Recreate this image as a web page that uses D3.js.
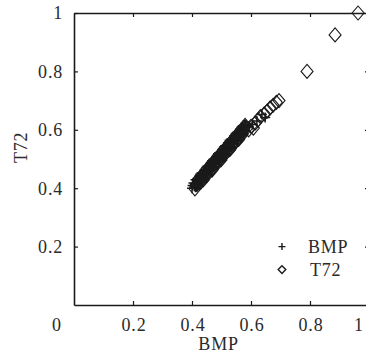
<!DOCTYPE html>
<html>
<head>
<meta charset="utf-8">
<script src="https://cdn.jsdelivr.net/npm/d3@7"></script>
<style>
  body { margin: 0; background: #fff; }
  svg { display: block; }
  text { font-family: "Liberation Serif", serif; fill: #2a2a2a; }
</style>
</head>
<body>
<div id="chart"></div>
<script>
// data
const seriesNames = ["BMP", "T72"];
const xTicks = [0.2, 0.4, 0.6, 0.8, 1];
const yTicks = [0.2, 0.4, 0.6, 0.8, 1];

const bmpPoints = [
  [0.400, 0.400], [0.405, 0.418], [0.410, 0.416], [0.415, 0.411], [0.420, 0.423],
  [0.425, 0.441], [0.430, 0.439], [0.435, 0.435], [0.440, 0.446], [0.445, 0.464],
  [0.450, 0.462], [0.455, 0.458], [0.460, 0.470], [0.465, 0.487], [0.470, 0.485],
  [0.475, 0.481], [0.480, 0.493], [0.485, 0.511], [0.490, 0.508], [0.495, 0.504],
  [0.500, 0.516], [0.505, 0.534], [0.510, 0.532], [0.515, 0.527], [0.520, 0.539],
  [0.525, 0.557], [0.530, 0.555], [0.535, 0.551], [0.540, 0.562], [0.545, 0.580],
  [0.550, 0.578], [0.555, 0.574], [0.560, 0.586], [0.565, 0.603], [0.570, 0.601],
  [0.575, 0.597], [0.580, 0.609],
  [0.412, 0.403], [0.418, 0.428], [0.423, 0.424], [0.428, 0.448], [0.433, 0.426],
  [0.438, 0.451], [0.443, 0.447], [0.448, 0.471], [0.453, 0.449], [0.458, 0.475],
  [0.463, 0.470], [0.468, 0.494], [0.473, 0.472], [0.478, 0.498], [0.483, 0.494],
  [0.488, 0.518], [0.493, 0.495], [0.498, 0.521], [0.503, 0.517], [0.508, 0.541],
  [0.513, 0.518], [0.518, 0.544], [0.523, 0.540], [0.528, 0.564], [0.533, 0.542],
  [0.538, 0.568], [0.543, 0.563], [0.548, 0.587], [0.553, 0.565], [0.558, 0.591],
  [0.563, 0.587], [0.568, 0.610], [0.573, 0.588], [0.578, 0.614],
  [0.402, 0.409], [0.408, 0.407], [0.412, 0.429], [0.418, 0.410], [0.422, 0.432],
  [0.427, 0.430], [0.432, 0.452], [0.437, 0.434], [0.442, 0.455], [0.447, 0.453],
  [0.452, 0.475], [0.457, 0.457], [0.462, 0.479], [0.467, 0.476], [0.472, 0.498],
  [0.477, 0.480], [0.482, 0.502], [0.487, 0.500], [0.492, 0.521], [0.497, 0.503],
  [0.502, 0.525], [0.507, 0.523], [0.512, 0.545], [0.517, 0.526], [0.522, 0.548],
  [0.527, 0.546], [0.532, 0.568], [0.537, 0.550], [0.542, 0.571], [0.547, 0.569],
  [0.552, 0.591], [0.557, 0.573], [0.562, 0.595], [0.567, 0.592], [0.572, 0.614],
  [0.577, 0.596], [0.582, 0.618],
  [0.592, 0.612], [0.605, 0.618], [0.620, 0.630], [0.637, 0.652], [0.648, 0.642]
];

const t72Points = [
  [0.410, 0.398], [0.415, 0.413], [0.420, 0.429], [0.425, 0.419], [0.430, 0.421],
  [0.435, 0.437], [0.440, 0.452], [0.445, 0.442], [0.450, 0.444], [0.455, 0.460],
  [0.460, 0.476], [0.465, 0.465], [0.470, 0.467], [0.475, 0.483], [0.480, 0.499],
  [0.485, 0.489], [0.490, 0.490], [0.495, 0.506], [0.500, 0.522], [0.505, 0.512],
  [0.510, 0.514], [0.515, 0.529], [0.520, 0.545], [0.525, 0.535], [0.530, 0.537],
  [0.535, 0.553], [0.540, 0.568], [0.545, 0.558], [0.550, 0.560], [0.555, 0.576],
  [0.560, 0.592], [0.565, 0.581], [0.570, 0.583], [0.575, 0.599], [0.580, 0.615],
  [0.585, 0.605],
  [0.418, 0.414], [0.428, 0.434], [0.438, 0.428], [0.448, 0.449], [0.458, 0.469],
  [0.468, 0.462], [0.478, 0.484], [0.488, 0.504], [0.498, 0.497], [0.508, 0.519],
  [0.518, 0.538], [0.528, 0.532], [0.538, 0.554], [0.548, 0.573], [0.558, 0.567],
  [0.568, 0.588], [0.578, 0.608],
  [0.592, 0.600], [0.600, 0.612], [0.608, 0.606], [0.615, 0.624], [0.624, 0.634],
  [0.632, 0.645], [0.645, 0.655], [0.655, 0.664], [0.665, 0.675], [0.675, 0.684],
  [0.686, 0.694], [0.695, 0.700],
  [0.790, 0.800], [0.885, 0.925], [0.963, 1.000]
];

const dimensions = {
  width: 366,
  height: 362,
  marginTop: 13,
  marginLeft: 74,
  boundedWidth: 295,
  boundedHeight: 292
};

const wrapper = d3.select("#chart")
  .append("svg")
    .attr("width", dimensions.width)
    .attr("height", dimensions.height);

const bounds = wrapper.append("g")
  .attr("transform", `translate(${dimensions.marginLeft}, ${dimensions.marginTop})`);

// scales
const xScale = d3.scaleLinear().domain([0, 1]).range([0, dimensions.boundedWidth]);
const yScale = d3.scaleLinear().domain([0, 1]).range([dimensions.boundedHeight, 0]);

const ink = "#1a1a1a";
const tickLen = 4;

// inward ticks on all four sides, no labels
const noLabel = () => "";
const tickAxes = [
  { gen: d3.axisBottom(xScale).tickValues(xTicks).tickSizeInner(-tickLen), y: dimensions.boundedHeight, x: 0 },
  { gen: d3.axisTop(xScale).tickValues(xTicks).tickSizeInner(-tickLen), y: 0, x: 0 },
  { gen: d3.axisLeft(yScale).tickValues(yTicks).tickSizeInner(-tickLen), y: 0, x: 0 },
  { gen: d3.axisRight(yScale).tickValues(yTicks).tickSizeInner(-tickLen), y: 0, x: dimensions.boundedWidth }
];
tickAxes.forEach(a => {
  const g = bounds.append("g")
    .attr("transform", `translate(${a.x}, ${a.y})`)
    .call(a.gen.tickSizeOuter(0).tickFormat(noLabel));
  g.select(".domain").attr("stroke", ink).attr("stroke-width", 1.6);
  g.selectAll(".tick line").attr("stroke", ink).attr("stroke-width", 1.2);
});

// tick labels
const labelStyle = sel => sel
  .attr("font-size", 18)
  .attr("letter-spacing", 0.8);

bounds.append("g").selectAll("text")
  .data(yTicks)
  .join("text")
    .attr("x", -11)
    .attr("y", d => yScale(d))
    .attr("dy", "0.35em")
    .attr("text-anchor", "end")
    .text(d => d)
    .call(labelStyle);

// x labels; the one at 1 would fall past the right edge, pull it in
bounds.append("g").selectAll("text")
  .data(xTicks)
  .join("text")
    .attr("x", d => d === 1 ? xScale(d) - 10 : xScale(d) + 1)
    .attr("y", dimensions.boundedHeight + 26)
    .attr("text-anchor", "middle")
    .text(d => d)
    .call(labelStyle);

// shared origin label sits below-left of the corner
bounds.append("text")
  .attr("x", xScale(0) - 17)
  .attr("y", dimensions.boundedHeight + 26)
  .attr("text-anchor", "middle")
  .text("0")
  .call(labelStyle);

// axis titles
bounds.append("text")
  .attr("x", xScale(0.49))
  .attr("y", dimensions.boundedHeight + 45)
  .attr("text-anchor", "middle")
  .text("BMP")
  .call(labelStyle);

bounds.append("text")
  .attr("transform", `translate(-47, ${yScale(0.54)}) rotate(-90)`)
  .attr("text-anchor", "middle")
  .text("T72")
  .call(labelStyle);

// point symbols
const plusPath = r => `M${-r},0H${r}M0,${-r}V${r}`;
const diamondPath = (w, h) => `M0,${-h}L${w},0L0,${h}L${-w},0Z`;

bounds.append("g").selectAll("path")
  .data(t72Points)
  .join("path")
    .attr("transform", d => `translate(${xScale(d[0])}, ${yScale(d[1])})`)
    .attr("d", diamondPath(6, 7))
    .attr("fill", "none")
    .attr("stroke", ink)
    .attr("stroke-width", 1.1);

bounds.append("g").selectAll("path")
  .data(bmpPoints)
  .join("path")
    .attr("transform", d => `translate(${xScale(d[0])}, ${yScale(d[1])})`)
    .attr("d", plusPath(5))
    .attr("fill", "none")
    .attr("stroke", ink)
    .attr("stroke-width", 1.5);

// legend
const legend = bounds.append("g")
  .attr("transform", `translate(${xScale(0.705)}, ${yScale(0.2)})`);

const legendItems = legend.selectAll("g")
  .data(seriesNames)
  .join("g")
    .attr("transform", (d, i) => `translate(0, ${i * 23})`);

legendItems.append("path")
  .attr("d", (d, i) => i === 0 ? plusPath(3.5) : diamondPath(3.8, 3.8))
  .attr("fill", "none")
  .attr("stroke", ink)
  .attr("stroke-width", 1.4);

legendItems.append("text")
  .attr("x", (d, i) => i === 0 ? 26 : 28)
  .attr("dy", "0.35em")
  .text(d => d)
  .call(labelStyle);
</script>
</body>
</html>
